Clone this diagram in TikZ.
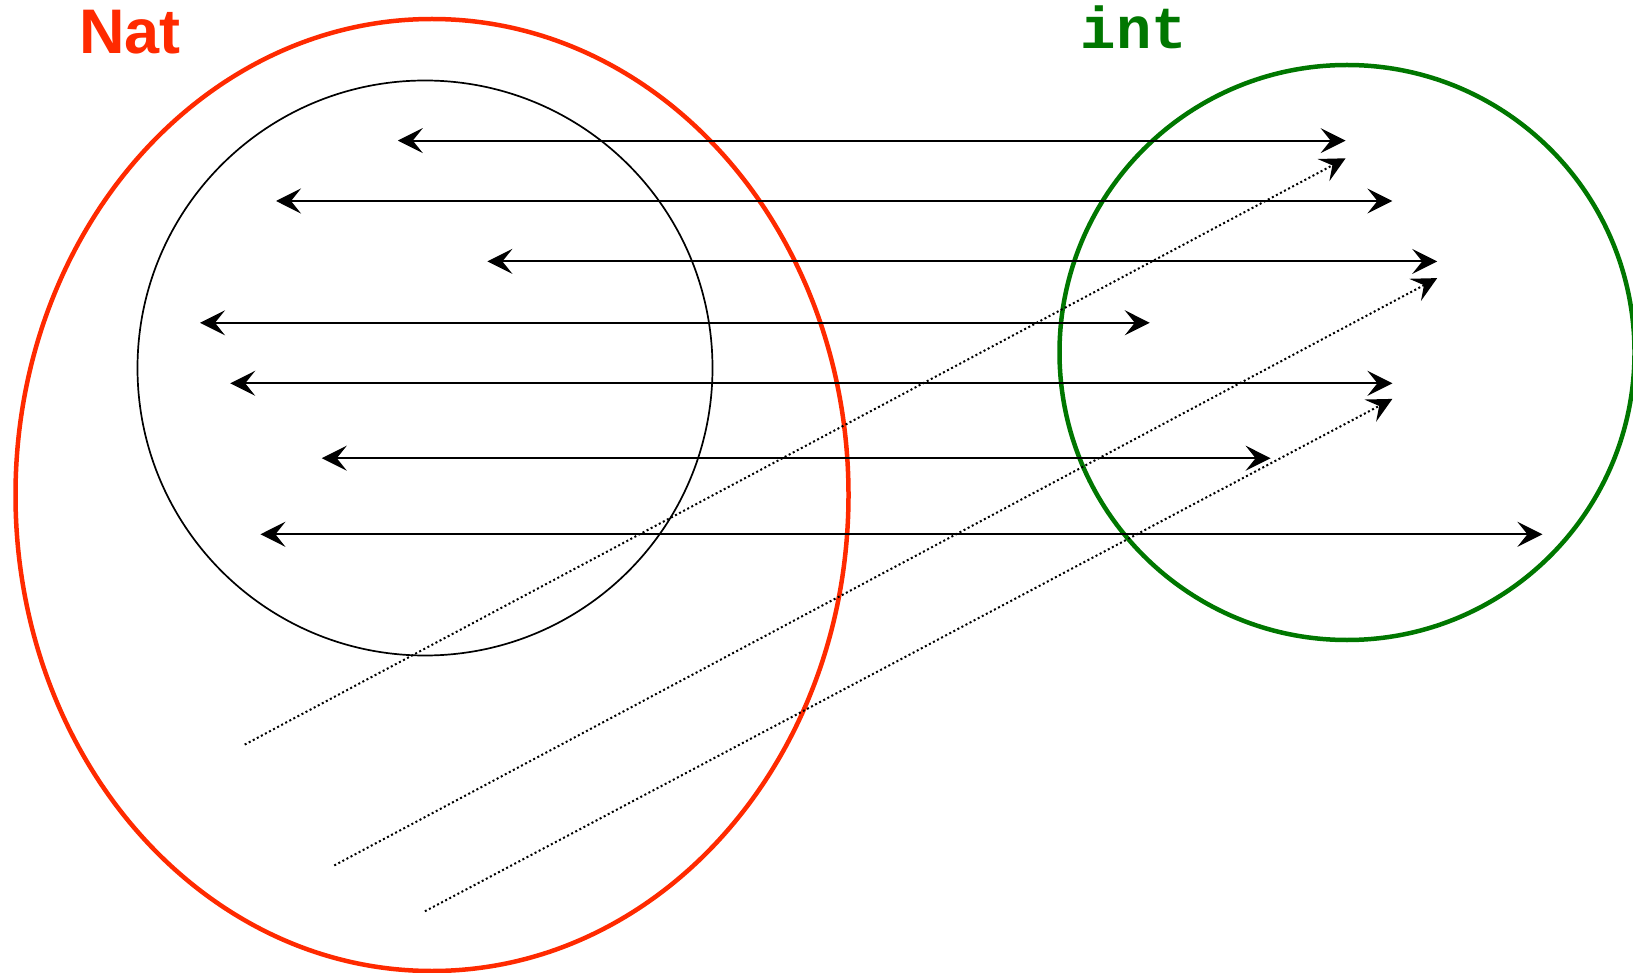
\documentclass[tikz,border=0pt]{standalone}
\usepackage{fontspec}
\setmainfont{Liberation Sans}
\newfontfamily\monof{Liberation Mono}
\usetikzlibrary{arrows.meta,shapes.geometric}
\definecolor{natred}{RGB}{255,42,0}
\definecolor{intgreen}{RGB}{0,119,0}
\tikzset{
  tipst/.tip={Stealth[length=25pt,width=25pt,inset=10pt]},
  maparrow/.style={line width=1.9pt,tipst-tipst},
  dotarrow/.style={line width=2pt,dash pattern=on 2pt off 2.6pt,-tipst},
}
\begin{document}
\begin{tikzpicture}[x=1pt,y=-1pt]
\useasboundingbox (0,0) rectangle (1633,973);
% sets
\node[draw=natred,line width=4.5pt,ellipse,minimum width=833pt,minimum height=952pt,inner sep=0pt] (nat) at (432,495) {};
\node[draw=black,line width=1.7pt,circle,minimum size=575pt,inner sep=0pt] (sub) at (425,368) {};
\node[draw=intgreen,line width=4.5pt,circle,minimum size=575pt,inner sep=0pt] (int) at (1347,352.5) {};
% labels
\node[text=natred,font=\fontsize{63}{63}\selectfont\bfseries,anchor=base] (natlabel) at (130,54) {Nat};
\node[text=intgreen,font=\fontsize{59}{59}\selectfont\monof\bfseries,anchor=base] (intlabel) at (1134,49) {int};
% endpoints
\coordinate (l1) at (397.8,140.6); \coordinate (r1) at (1345.6,140.6);
\coordinate (l2) at (276,201); \coordinate (r2) at (1392.4,201);
\coordinate (l3) at (487.4,261.4); \coordinate (r3) at (1437.2,261.4);
\coordinate (l4) at (200,322.8); \coordinate (r4) at (1149.8,322.8);
\coordinate (l5) at (230.2,383.3); \coordinate (r5) at (1392.4,383.3);
\coordinate (l6) at (321.8,458.2); \coordinate (r6) at (1270.6,458.2);
\coordinate (l7) at (260.4,534.3); \coordinate (r7) at (1542.4,534.3);
\coordinate (da) at (244.7,744.6); \coordinate (ea) at (1345.6,158.3);
\coordinate (db) at (334.3,865.4); \coordinate (eb) at (1437.2,278.1);
\coordinate (dc) at (424.9,911.3); \coordinate (ec) at (1392.4,398.9);
% arrows
\foreach \i in {1,...,7} \draw[maparrow] (l\i) -- (r\i);
\draw[dotarrow] (da) -- (ea);
\draw[dotarrow] (db) -- (eb);
\draw[dotarrow] (dc) -- (ec);
\end{tikzpicture}
\end{document}
